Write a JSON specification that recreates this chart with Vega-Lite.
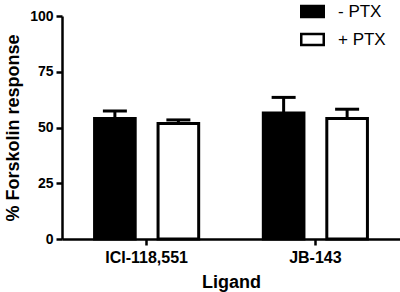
{
  "$schema": "https://vega.github.io/schema/vega-lite/v6.json",
  "width": 338,
  "height": 223,
  "autosize": "none",
  "padding": {"left": 62, "top": 16, "right": 0, "bottom": 53},
  "background": "white",
  "config": {
    "view": {"stroke": null},
    "font": "Liberation Sans",
    "axis": {
      "domainColor": "black",
      "domainWidth": 2.5,
      "tickColor": "black",
      "tickWidth": 2.5,
      "tickSize": 6,
      "grid": false,
      "labelFont": "Liberation Sans",
      "labelFontWeight": "bold",
      "labelColor": "black",
      "titleFont": "Liberation Sans",
      "titleFontWeight": "bold",
      "titleColor": "black",
      "titleFontSize": 18
    }
  },
  "data": {
    "values": [
      {"ligand": "ICI-118,551", "ptx": "- PTX", "value": 54.0, "upper": 57.4},
      {"ligand": "ICI-118,551", "ptx": "+ PTX", "value": 51.8, "upper": 53.4},
      {"ligand": "JB-143", "ptx": "- PTX", "value": 56.5, "upper": 63.5},
      {"ligand": "JB-143", "ptx": "+ PTX", "value": 54.0, "upper": 58.2}
    ]
  },
  "encoding": {
    "x": {
      "field": "ligand",
      "type": "nominal",
      "sort": ["ICI-118,551", "JB-143"],
      "scale": {"paddingInner": 0.383, "paddingOuter": 0.193},
      "axis": {"labelAngle": 0, "labelFontSize": 16, "labelPadding": 4, "title": "Ligand", "titlePadding": 8}
    },
    "xOffset": {
      "field": "ptx",
      "type": "nominal",
      "sort": ["- PTX", "+ PTX"],
      "scale": {"paddingInner": 0.36, "paddingOuter": 0}
    }
  },
  "layer": [
    {
      "mark": {"type": "rule", "stroke": "black", "strokeWidth": 3},
      "encoding": {
        "y": {"field": "value", "type": "quantitative"},
        "y2": {"field": "upper"}
      }
    },
    {
      "mark": {"type": "tick", "orient": "horizontal", "color": "black", "size": 24, "thickness": 3, "opacity": 1},
      "encoding": {
        "y": {"field": "upper", "type": "quantitative"}
      }
    },
    {
      "mark": {"type": "bar", "stroke": "black", "strokeWidth": 3, "opacity": 1},
      "encoding": {
        "y": {
          "field": "value",
          "type": "quantitative",
          "scale": {"domain": [0, 100], "nice": false},
          "axis": {"values": [0, 25, 50, 75, 100], "labelFontSize": 14, "labelPadding": 3, "title": "% Forskolin response", "titlePadding": 7}
        },
        "fill": {
          "field": "ptx",
          "type": "nominal",
          "sort": ["- PTX", "+ PTX"],
          "scale": {"domain": ["- PTX", "+ PTX"], "range": ["black", "white"]},
          "legend": {
            "title": null,
            "orient": "none",
            "legendX": 238,
            "legendY": -17,
            "padding": 0,
            "symbolType": "M-1,-0.5H1V0.5H-1Z",
            "symbolSize": 506,
            "symbolStrokeColor": "black",
            "symbolStrokeWidth": 2.5,
            "symbolOpacity": 1,
            "labelFont": "Liberation Sans",
            "labelFontSize": 17,
            "labelColor": "black",
            "labelOffset": 13,
            "rowPadding": 4
          }
        }
      }
    }
  ]
}
